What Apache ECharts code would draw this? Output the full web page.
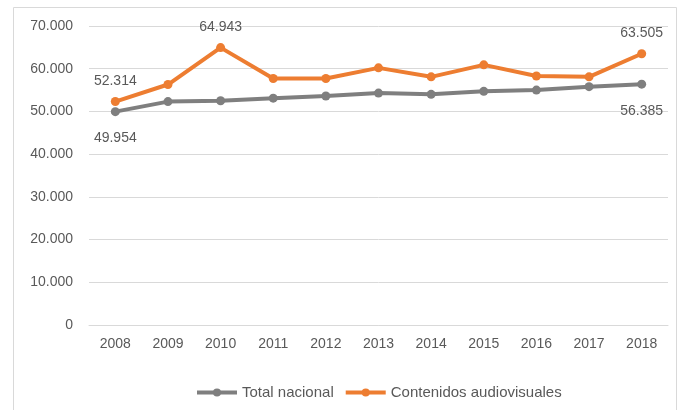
<!DOCTYPE html>
<html><head><meta charset="utf-8">
<script src="https://cdn.jsdelivr.net/npm/echarts@6/dist/echarts.min.js"></script>
<style>html,body{margin:0;padding:0;background:#fff}#c{width:678px;height:410px}</style>
</head><body><div id="c"></div>
<script>
const years = ['2008','2009','2010','2011','2012','2013','2014','2015','2016','2017','2018'];
const totalNacional = [49.954, 52.3, 52.5, 53.1, 53.6, 54.3, 54.0, 54.7, 55.0, 55.8, 56.385];
const contenidosAV = [52.314, 56.3, 64.943, 57.7, 57.7, 60.2, 58.1, 60.9, 58.3, 58.1, 63.505];
const labelIdxTotal = {0:'bottom', 10:'bottom'};
const labelIdxAV = {0:'top', 2:'top', 10:'top'};
const fmt = v => v === 0 ? '0' : v.toFixed(3);
const font = 'Liberation Sans';
const txt = '#595959';
function withLabels(arr, pos, dist) {
  return arr.map((v, i) => pos[i] ? {value: v, label: {show: true, position: pos[i], distance: dist, formatter: p => fmt(p.value), color: txt, fontSize: 14, fontFamily: font}} : v);
}
const chart = echarts.init(document.getElementById('c'), null, {renderer: 'canvas'});
chart.setOption({
  animation: false,
  graphic: [{type: 'rect', shape: {x: 13.5, y: 7.5, width: 663, height: 410}, style: {fill: 'none', stroke: '#d9d9d9', lineWidth: 1}}],
  grid: {left: 89, right: 10, top: 26, bottom: 85},
  legend: {
    bottom: 5, left: 190, itemWidth: 40, itemHeight: 10, itemGap: 10,
    lineStyle: {width: 4},
    textStyle: {color: txt, fontSize: 15, fontFamily: font},
    data: ['Total nacional', 'Contenidos audiovisuales']
  },
  xAxis: {
    type: 'category', data: years, boundaryGap: true,
    axisLine: {show: true, lineStyle: {color: '#d9d9d9'}}, axisTick: {show: false},
    axisLabel: {color: txt, fontSize: 14, fontFamily: font, margin: 12}
  },
  yAxis: {
    type: 'value', min: 0, max: 70, interval: 10,
    axisLine: {show: false}, axisTick: {show: false},
    splitLine: {lineStyle: {color: '#d9d9d9'}},
    axisLabel: {color: txt, fontSize: 14, fontFamily: font, margin: 16, formatter: fmt}
  },
  series: [
    {name: 'Total nacional', type: 'line', data: withLabels(totalNacional, labelIdxTotal, 15),
     symbol: 'circle', symbolSize: 9, color: '#7f7f7f', lineStyle: {width: 4, color: '#7f7f7f'}, itemStyle: {color: '#7f7f7f'}},
    {name: 'Contenidos audiovisuales', type: 'line', data: withLabels(contenidosAV, labelIdxAV, 9),
     symbol: 'circle', symbolSize: 9, color: '#ed7d31', lineStyle: {width: 4, color: '#ed7d31'}, itemStyle: {color: '#ed7d31'}}
  ]
});
</script></body></html>
